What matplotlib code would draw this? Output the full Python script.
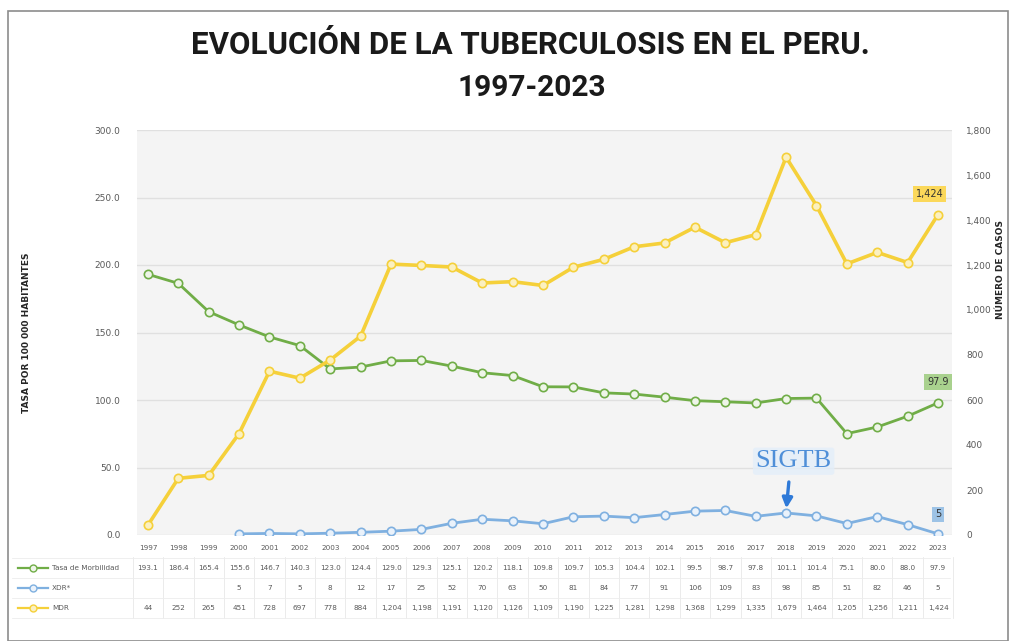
import matplotlib.pyplot as plt
from matplotlib.lines import Line2D
from matplotlib.patches import Rectangle
import numpy as np

years = list(range(1997, 2024))
morbilidad = [193.1, 186.4, 165.4, 155.6, 146.7, 140.3, 123.0, 124.4, 129.0,
              129.3, 125.1, 120.2, 118.1, 109.8, 109.7, 105.3, 104.4, 102.1,
              99.5, 98.7, 97.8, 101.1, 101.4, 75.1, 80.0, 88.0, 97.9]
xdr = [None, None, None, 5, 7, 5, 8, 12, 17, 25, 52, 70, 63, 50, 81, 84, 77,
       91, 106, 109, 83, 98, 85, 51, 82, 46, 5]
mdr = [44, 252, 265, 451, 728, 697, 778, 884, 1204, 1198, 1191, 1120, 1126,
       1109, 1190, 1225, 1281, 1298, 1368, 1299, 1335, 1679, 1464, 1205, 1256,
       1211, 1424]

green = '#70ad47'
blue = '#7fb0e0'
yellow = '#f5d03a'
gray_txt = '#595959'

fig = plt.figure(figsize=(10.09, 6.41), dpi=100)
fig.patch.set_facecolor('white')

# outer frame
fig.add_artist(Rectangle((8 / 1009, 0.0), 1 - 8 / 1009 - 0.001, 1 - 11 / 641,
                         transform=fig.transFigure, fill=False,
                         edgecolor='#8c8c8c', lw=1.2))

title_font = ['Roboto', 'Liberation Sans', 'DejaVu Sans']
fig.text(0.526, 0.930, 'EVOLUCIÓN DE LA TUBERCULOSIS EN EL PERU.',
         ha='center', va='center', fontsize=22.5, fontweight='bold',
         family=title_font, color='#1a1a1a')
fig.text(0.527, 0.862, '1997-2023', ha='center', va='center', fontsize=21.5,
         fontweight='bold', family=title_font, color='#1a1a1a')

ax = fig.add_axes([137 / 1009, 1 - 535 / 641, 815 / 1009, 405 / 641])
ax.set_facecolor('#f4f4f4')
ax.set_xlim(1996.64, 2023.46)
ax.set_ylim(0, 300)
ax.set_yticks(np.arange(0, 301, 50))
ax.set_yticklabels([f'{v:.1f}' for v in np.arange(0, 301, 50)])
ax.tick_params(axis='y', length=0, labelsize=6.5, colors=gray_txt, pad=12)
ax.set_xticks([])
ax.grid(axis='y', color='#e0e0e0', lw=1)
ax.set_axisbelow(True)
for s in ax.spines.values():
    s.set_visible(False)

ax.plot(years, morbilidad, color=green, lw=2, marker='o', ms=6,
        mfc='#eef5e8', mec=green, mew=1.2, zorder=3)

ax2 = ax.twinx()
ax2.set_ylim(0, 1800)
ax2.set_yticks(np.arange(0, 1801, 200))
ax2.set_yticklabels([f'{v:,}' for v in range(0, 1801, 200)])
ax2.tick_params(axis='y', length=0, labelsize=6.5, colors=gray_txt, pad=10)
for s in ax2.spines.values():
    s.set_visible(False)

xdr_years = [y for y, v in zip(years, xdr) if v is not None]
xdr_vals = [v for v in xdr if v is not None]
ax2.plot(xdr_years, xdr_vals, color=blue, lw=2, marker='o', ms=6,
         mfc='#eaf2fb', mec=blue, mew=1.2, zorder=3)
ax2.plot(years, mdr, color=yellow, lw=2.6, marker='o', ms=6,
         mfc='#fbf0c0', mec=yellow, mew=1.2, zorder=4)

ax.set_ylabel('TASA POR 100 000 HABITANTES', fontsize=6.5, fontweight='bold',
              color='#262626', labelpad=46)
fig.text(0.992, 0.58, 'NÚMERO DE CASOS', rotation=90, ha='center',
         va='center', fontsize=6.5, fontweight='bold', color='#262626')

# end-of-series labels
ax2.annotate(f'{mdr[-1]:,}', (years[-1], mdr[-1]), xytext=(-6, 15),
             textcoords='offset points', ha='center', va='center', fontsize=7,
             color='#333333',
             bbox=dict(boxstyle='square,pad=0.3', fc='#fbd85a', ec='none'))
ax.annotate(f'{morbilidad[-1]:.1f}', (years[-1], morbilidad[-1]),
            xytext=(0, 15), textcoords='offset points', ha='center',
            va='center', fontsize=7, color='#333333',
            bbox=dict(boxstyle='square,pad=0.3', fc='#a9d18e', ec='none'))
ax2.annotate(f'{xdr[-1]}', (years[-1], xdr[-1]), xytext=(0, 14),
             textcoords='offset points', ha='center', va='center',
             fontsize=7, color='#333333',
             bbox=dict(boxstyle='square,pad=0.3', fc='#9dc3e6', ec='none'))

# SIGTB marker
i18 = years.index(2018)
ax2.annotate('', xy=(2018, xdr[i18] + 8), xytext=(2018.1, xdr[i18] + 150),
             arrowprops=dict(arrowstyle='-|>', color='#2f7ad8', lw=2.4,
                             mutation_scale=15))
ax2.text(2018.25, xdr[i18] + 230, 'SIGTB', ha='center', va='center',
         fontsize=19, family='Liberation Serif', color='#4f8fd8',
         bbox=dict(boxstyle='round,pad=0.1', fc='#e3eefa', ec='none',
                   alpha=0.8))

# data table under the plot
trans = ax.get_xaxis_transform()
row_y = [-0.032, -0.082, -0.131, -0.180]
for y in years:
    ax.text(y, row_y[0], str(y), transform=trans, ha='center', va='center',
            fontsize=5.2, color=gray_txt)
rows = [
    [f'{v:.1f}' for v in morbilidad],
    ['' if v is None else str(v) for v in xdr],
    [f'{v:,}' for v in mdr],
]
for r, vals in enumerate(rows):
    for y, t in zip(years, vals):
        ax.text(y, row_y[r + 1], t, transform=trans, ha='center',
                va='center', fontsize=5.2, color=gray_txt)

for y in np.arange(1996.5, 2024.5, 1):
    ax.plot([y, y], [-0.055, -0.205], transform=trans, color='#e8e8e8',
            lw=0.6, clip_on=False)
pos = ax.get_position()
for yy in [-0.057, -0.106, -0.155, -0.205]:
    fig.add_artist(Line2D([12 / 1009, 950 / 1009],
                          [pos.y0 + yy * pos.height] * 2,
                          color='#ededed', lw=0.6))

names = ['Tasa de Morbilidad', 'XDR*', 'MDR']
cols = [green, blue, yellow]
fcs = ['#eef5e8', '#eaf2fb', '#fbf0c0']
for r, (n, c, f) in enumerate(zip(names, cols, fcs)):
    fy = pos.y0 + row_y[r + 1] * pos.height
    fig.add_artist(Line2D([18 / 1009, 48 / 1009], [fy, fy], color=c, lw=1.6))
    fig.add_artist(Line2D([33 / 1009], [fy], color=c, marker='o', ms=5,
                          mfc=f, mec=c, lw=0))
    fig.text(52 / 1009, fy, n, ha='left', va='center', fontsize=5.2,
             color=gray_txt)

fig.savefig('out.png', dpi=100)
